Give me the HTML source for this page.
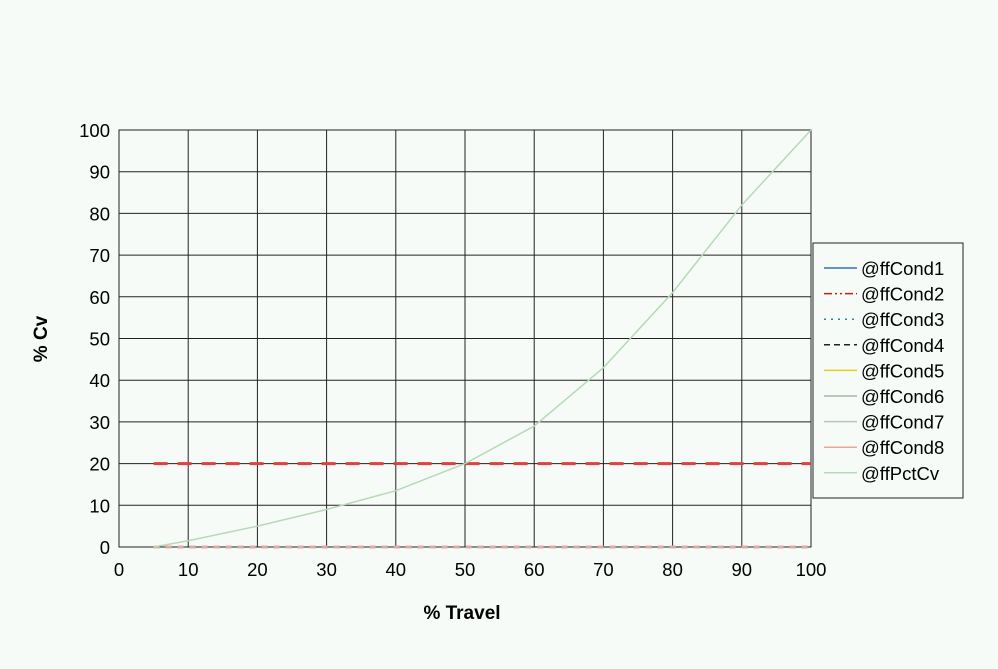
<!DOCTYPE html>
<html><head><meta charset="utf-8"><style>
body{margin:0;background:#f7fbf7;}
svg{display:block;font-family:"Liberation Sans",Arial,sans-serif;}
</style></head><body>
<svg id="chart" width="998" height="669">
<rect width="998" height="669" fill="#f7fbf7"/>
<g id="grid"></g>
<g id="series"></g>
<g id="axes"></g>
<text x="462" y="619" font-size="19" font-weight="bold" text-anchor="middle">% Travel</text>
<text transform="translate(47,339) rotate(-90)" font-size="19" font-weight="bold" text-anchor="middle">% Cv</text>
<g id="legend"></g>
</svg>
<script>
const xTicks=[0,10,20,30,40,50,60,70,80,90,100];
const yTicks=[0,10,20,30,40,50,60,70,80,90,100];
const travel=[5,10,20,30,40,50,60,70,80,90,100];
const pctCv=[0,1.5,5,9,13.5,20,29,43,61,82,100];
const cond2=[20,20,20,20,20,20,20,20,20,20,20];
const cond8=[0,0,0,0,0,0,0,0,0,0,0];
const seriesNames=["@ffCond1","@ffCond2","@ffCond3","@ffCond4","@ffCond5","@ffCond6","@ffCond7","@ffCond8","@ffPctCv"];
const NS="http://www.w3.org/2000/svg";
const X0=119,X1=811,Y0=547,Y1=130;
const sx=v=>X0+(v-0)/100*(X1-X0);
const sy=v=>Y0-(v-0)/100*(Y0-Y1);
function mk(tag,attrs,parent){const e=document.createElementNS(NS,tag);for(const k in attrs)e.setAttribute(k,attrs[k]);parent.appendChild(e);return e;}
const grid=document.getElementById('grid'),axes=document.getElementById('axes'),ser=document.getElementById('series'),leg=document.getElementById('legend');
mk('rect',{x:X0,y:Y1,width:X1-X0,height:Y0-Y1,fill:'#f7fbf7',stroke:'#222','stroke-width':1},grid);
xTicks.forEach(t=>{
 const l=mk('line',{x1:sx(t),x2:sx(t),y1:Y1,y2:Y0,stroke:'#222','stroke-width':1},grid);
 
 
 const tx=mk('text',{x:sx(t),y:Y0+29,'font-size':18.5,'text-anchor':'middle'},axes);tx.textContent=t;
 
 
});
yTicks.forEach(t=>{
 const l=mk('line',{x1:X0,x2:X1,y1:sy(t),y2:sy(t),stroke:'#222','stroke-width':1},grid);
 
 
 const tx=mk('text',{x:X0-9,y:sy(t)+7,'font-size':18.5,'text-anchor':'end'},axes);tx.textContent=t;
 
 
});
function poly(ys,attrs,name){
 const p=mk('polyline',Object.assign({points:travel.map((x,i)=>sx(x)+','+sy(ys[i])).join(' '),fill:'none'},attrs),ser);
 
 
}
poly(cond8,{stroke:'#e0a8a8','stroke-width':3,'stroke-dasharray':'6,6'},'series-ffcond8');
poly(cond2,{stroke:'#e04040','stroke-width':3,'stroke-dasharray':'14,10'},'series-ffcond2');
poly(pctCv,{stroke:'#b8d8b8','stroke-width':1.5},'series-ffpctcv');
mk('rect',{x:813,y:243,width:150,height:255,fill:'#f7fbf7',stroke:'#222','stroke-width':1},leg);
const styles=[{stroke:'#3070c0'},{stroke:'#c02020','stroke-dasharray':'8,3,2,3,2,3'},{stroke:'#3080a0','stroke-dasharray':'2,5'},{stroke:'#222','stroke-dasharray':'6,4'},{stroke:'#e0d020'},{stroke:'#a8b8a8'},{stroke:'#b8c0c8'},{stroke:'#e8a8a0'},{stroke:'#b8d8b8'}];
seriesNames.forEach((n,i)=>{
 const y=268+i*25.6;
 mk('line',Object.assign({x1:824,x2:857,y1:y,y2:y,'stroke-width':1.5},styles[i]),leg);
 const t=mk('text',{x:861,y:y+7,'font-size':18.5},leg);t.textContent=n;
 
 
});
</script>
</body></html>
